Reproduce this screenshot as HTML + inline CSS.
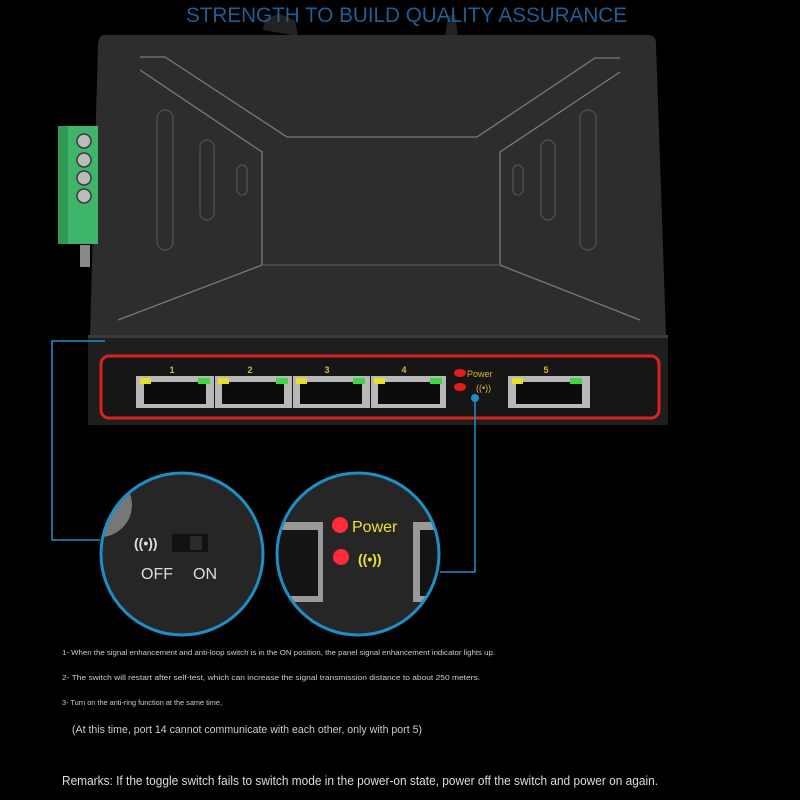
<!DOCTYPE html>
<html><head><meta charset="utf-8"><style>
html,body{margin:0;padding:0;background:#000;}
svg{display:block}
</style></head><body>
<svg width="800" height="800" viewBox="0 0 800 800" xmlns="http://www.w3.org/2000/svg" font-family="Liberation Sans, sans-serif">
<defs>
<clipPath id="c1"><circle cx="182" cy="554" r="80"/></clipPath>
<clipPath id="c2"><circle cx="358" cy="554" r="80"/></clipPath>
</defs>
<rect width="800" height="800" fill="#000"/>
<path d="M263,30 L265,18 L280,14 L295,20 L298,36 Z" fill="#222"/>
<path d="M445,36 L448,16 L455,14 L458,36 Z" fill="#222"/>
<text x="186" y="22" font-size="21" fill="#1f5f92" textLength="441" lengthAdjust="spacingAndGlyphs">STRENGTH TO BUILD QUALITY ASSURANCE</text>
<path d="M104,35 L648,35 Q656,35 656,44 L666,335 L90,335 L98,44 Q99,35 104,35 Z" fill="#2d2d2d"/>
<g fill="none" stroke="#7a7a7a" stroke-width="1.3">
<path d="M140,57 L165,57 L287,137 L477,137 L595,58 L620,58"/>
<path d="M140,70 L262,152 L262,265 L118,320"/>
<path d="M620,72 L500,152 L500,265 L640,320"/>
<path d="M262,265 L500,265" stroke="#555"/>
</g>
<g fill="none" stroke="#505050" stroke-width="1.3">
<rect x="157" y="110" width="16" height="140" rx="8"/>
<rect x="200" y="140" width="14" height="80" rx="7"/>
<rect x="237" y="165" width="10" height="30" rx="5"/>
<rect x="580" y="110" width="16" height="140" rx="8"/>
<rect x="541" y="140" width="14" height="80" rx="7"/>
<rect x="513" y="165" width="10" height="30" rx="5"/>
</g>
<rect x="58" y="126" width="40" height="118" fill="#3fb56b"/>
<rect x="58" y="126" width="10" height="118" fill="#2f9a56"/>
<g fill="#bbb" stroke="#3a3a3a" stroke-width="1.5">
<circle cx="84" cy="141" r="7"/><circle cx="84" cy="160" r="7"/><circle cx="84" cy="178" r="7"/><circle cx="84" cy="196" r="7"/>
</g>
<rect x="80" y="245" width="10" height="22" fill="#888"/>
<rect x="88" y="335" width="580" height="90" fill="#1e1e1e"/>
<rect x="88" y="335" width="580" height="3" fill="#3a3a3a"/>
<rect x="101" y="356" width="558" height="62" rx="8" fill="#161616" stroke="#d8221e" stroke-width="3"/>
<g font-size="9" font-weight="bold" fill="#d4b63a" text-anchor="middle">
<text x="172" y="373">1</text><text x="250" y="373">2</text><text x="327" y="373">3</text><text x="404" y="373">4</text><text x="546" y="373">5</text>
</g>
<g>
<rect x="136" y="376" width="78" height="32" fill="#b8b8b8"/><rect x="144" y="382" width="62" height="22" fill="#0c0c0c"/>
<rect x="215" y="376" width="77" height="32" fill="#b8b8b8"/><rect x="222" y="382" width="62" height="22" fill="#0c0c0c"/>
<rect x="293" y="376" width="77" height="32" fill="#b8b8b8"/><rect x="300" y="382" width="62" height="22" fill="#0c0c0c"/>
<rect x="371" y="376" width="75" height="32" fill="#b8b8b8"/><rect x="378" y="382" width="62" height="22" fill="#0c0c0c"/>
<rect x="508" y="376" width="82" height="32" fill="#b8b8b8"/><rect x="516" y="382" width="66" height="22" fill="#0c0c0c"/>
</g>
<g fill="#e6e02a"><rect x="140" y="378" width="11" height="6"/><rect x="218" y="378" width="11" height="6"/><rect x="296" y="378" width="11" height="6"/><rect x="374" y="378" width="11" height="6"/><rect x="512" y="378" width="11" height="6"/></g>
<g fill="#3fd44a"><rect x="198" y="378" width="12" height="6"/><rect x="276" y="378" width="12" height="6"/><rect x="353" y="378" width="12" height="6"/><rect x="430" y="378" width="12" height="6"/><rect x="570" y="378" width="12" height="6"/></g>
<ellipse cx="460" cy="373" rx="6" ry="4" fill="#e51c1c"/>
<ellipse cx="460" cy="387" rx="6" ry="4" fill="#e51c1c"/>
<text x="467" y="377" font-size="9" fill="#d4b63a">Power</text>
<text x="476" y="391" font-size="9" fill="#d4b63a">((•))</text>
<g stroke="#1d8fc2" stroke-width="1.5" fill="none">
<path d="M105,341 L52,341 L52,540 L100,540"/>
<path d="M475,398 L475,572 L440,572"/>
</g>
<circle cx="475" cy="398" r="4" fill="#1d8fc2"/>
<circle cx="182" cy="554" r="81" fill="#262626"/>
<g clip-path="url(#c1)">
<circle cx="100" cy="505" r="32" fill="#777"/>
</g>
<circle cx="182" cy="554" r="81" fill="none" stroke="#1d8fc2" stroke-width="3"/>
<text x="134" y="548" font-size="14" font-weight="bold" fill="#ddd">((•))</text>
<rect x="172" y="534" width="36" height="18" fill="#111"/>
<rect x="190" y="536" width="12" height="14" fill="#2a2a2a"/>
<text x="141" y="579" font-size="16" fill="#ddd">OFF</text>
<text x="193" y="579" font-size="16" fill="#ddd">ON</text>
<circle cx="358" cy="554" r="81" fill="#262626"/>
<g clip-path="url(#c2)">
<rect x="270" y="522" width="53" height="80" fill="#999"/><rect x="270" y="530" width="48" height="66" fill="#141414"/>
<rect x="413" y="522" width="40" height="80" fill="#999"/><rect x="420" y="530" width="40" height="66" fill="#141414"/>
</g>
<circle cx="358" cy="554" r="81" fill="none" stroke="#1d8fc2" stroke-width="3"/>
<circle cx="340" cy="525" r="8" fill="#ff2a3a"/>
<circle cx="341" cy="557" r="8" fill="#ff2a3a"/>
<text x="352" y="532" font-size="16" fill="#f0e030">Power</text>
<text x="358" y="564" font-size="14" font-weight="bold" fill="#f0e030">((•))</text>
<g fill="#ccc" font-size="7.5">
<text x="62" y="655" textLength="433" lengthAdjust="spacingAndGlyphs">1- When the signal enhancement and anti-loop switch is in the ON position, the panel signal enhancement indicator lights up.</text>
<text x="62" y="680" textLength="418" lengthAdjust="spacingAndGlyphs">2- The switch will restart after self-test, which can increase the signal transmission distance to about 250 meters.</text>
<text x="62" y="705" textLength="160" lengthAdjust="spacingAndGlyphs">3- Turn on the anti-ring function at the same time,</text>
</g>
<text x="72" y="733" font-size="11" fill="#ccc" textLength="350" lengthAdjust="spacingAndGlyphs">(At this time, port 14 cannot communicate with each other, only with port 5)</text>
<text x="62" y="785" font-size="13" fill="#ddd" textLength="596" lengthAdjust="spacingAndGlyphs">Remarks: If the toggle switch fails to switch mode in the power-on state, power off the switch and power on again.</text>
</svg>
</body></html>
